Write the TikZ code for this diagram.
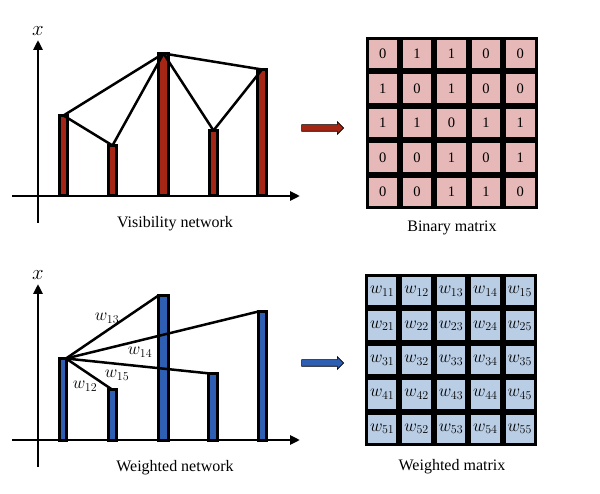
\documentclass[tikz,border=0pt]{standalone}
\usepackage{fontspec}
\setmainfont{Liberation Serif}
\usetikzlibrary{arrows.meta, shapes.arrows, matrix}
\definecolor{barred}{RGB}{166,38,22}
\definecolor{barblue}{RGB}{46,95,178}
\definecolor{cellpink}{RGB}{230,185,184}
\definecolor{cellblue}{RGB}{185,205,229}

\begin{document}
\begin{tikzpicture}[
    x=1pt, y=-1pt,
    axis/.style={line width=2.5pt, -{Triangle[length=10pt,width=9pt]}},
    bar/.style={draw, line width=3pt},
    edge/.style={line width=2.5pt},
    fatarrow/.style={single arrow, draw, line width=0.6pt, minimum height=42pt, inner sep=3pt, single arrow head extend=3pt},
    cell/.style={draw, line width=3pt, minimum size=31.4pt, inner sep=0pt, font=\fontsize{14.5}{16}\selectfont},
    cellmat/.style={matrix of nodes, row sep=0pt, column sep=0pt, inner sep=0pt},
    caption/.style={font=\fontsize{16}{18}\selectfont},
    weight/.style={font=\fontsize{17.28}{19}\selectfont, inner sep=0pt}
]
    \useasboundingbox (0,0) rectangle (600,494);

    % Visibility network
    \draw[axis] (38,223) -- (38,40);
    \draw[axis] (12,196) -- (300,196);
    \node[font=\fontsize{20.74}{22}\selectfont] (xtop) at (38,31) {$x$};
    \foreach \n/\xa/\xb/\top in {1/59.5/67.5/115.5, 2/108.5/116.5/145.5, 3/158.5/168.5/53.5, 4/209.5/217.5/130.5, 5/257.5/266.5/69.5}
    {
        \draw[bar, fill=barred] (\xa,196) rectangle (\xb,\top);
        \coordinate (v\n) at ({(\xa+\xb)/2},\top);
    }
    \draw[edge] (v1) -- (v2);
    \draw[edge] (v2) -- (v3);
    \draw[edge] (v3) -- (v4);
    \draw[edge] (v4) -- (v5);
    \draw[edge] (v1) -- (v3);
    \draw[edge] (v3) -- (v5);
    \node[caption] (vislabel) at (175,224) {Visibility network};

    % Binary matrix
    \node[fatarrow, fill=barred] (redarrow) at (321,128) {};
    \matrix (binmat) [cellmat, nodes={cell, fill=cellpink}] at (451.5,123) {
        0 & 1 & 1 & 0 & 0 \\
        1 & 0 & 1 & 0 & 0 \\
        1 & 1 & 0 & 1 & 1 \\
        0 & 0 & 1 & 0 & 1 \\
        0 & 0 & 1 & 1 & 0 \\
    };
    \node[caption] (binlabel) at (452,228) {Binary matrix};

    % Weighted network
    \draw[axis] (38,467) -- (38,284);
    \draw[axis] (12,440) -- (300,440);
    \node[font=\fontsize{20.74}{22}\selectfont] (xbot) at (38,275) {$x$};
    \foreach \n/\xa/\xb/\top/\cx in {1/59.5/66.5/358.5/66, 2/108.5/116.5/389.5/112, 3/158.5/168.5/295.5/158.5, 4/208.5/217.5/373.5/210, 5/258.5/266.5/311.5/258.5}
    {
        \draw[bar, fill=barblue] (\xa,440) rectangle (\xb,\top);
        \coordinate (w\n) at (\cx,\top);
    }
    \draw[edge] (w1) -- (w2);
    \draw[edge] (w1) -- (w3);
    \draw[edge] (w1) -- (w4);
    \draw[edge] (w1) -- (w5);
    \node[weight] (lab13) at (107,318) {$w_{13}$};
    \node[weight] (lab14) at (140,352) {$w_{14}$};
    \node[weight] (lab15) at (117,375) {$w_{15}$};
    \node[weight] (lab12) at (85,386) {$w_{12}$};
    \node[caption] (wnetlabel) at (175,468) {Weighted network};

    % Weighted matrix
    \node[fatarrow, fill=barblue] (bluearrow) at (321,363) {};
    \matrix (wmat) [cellmat, nodes={cell, fill=cellblue, font=\fontsize{17.28}{19}\selectfont}] at (451,360) {
        $w_{11}$ & $w_{12}$ & $w_{13}$ & $w_{14}$ & $w_{15}$ \\
        $w_{21}$ & $w_{22}$ & $w_{23}$ & $w_{24}$ & $w_{25}$ \\
        $w_{31}$ & $w_{32}$ & $w_{33}$ & $w_{34}$ & $w_{35}$ \\
        $w_{41}$ & $w_{42}$ & $w_{43}$ & $w_{44}$ & $w_{45}$ \\
        $w_{51}$ & $w_{52}$ & $w_{53}$ & $w_{54}$ & $w_{55}$ \\
    };
    \node[caption] (wmatlabel) at (452,467) {Weighted matrix};
\end{tikzpicture}
\end{document}
